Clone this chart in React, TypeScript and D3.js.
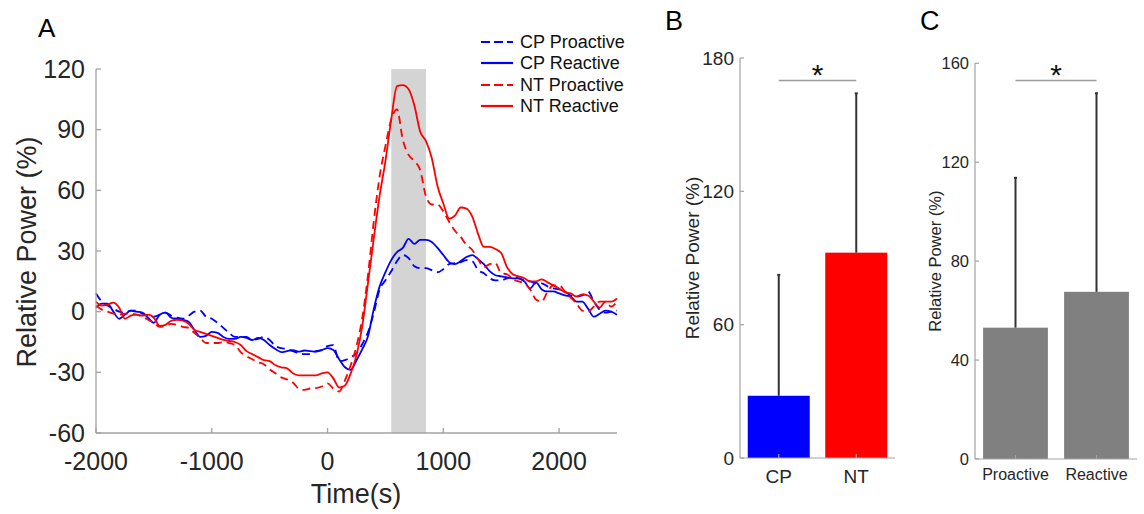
import React from "react";
import * as d3 from "d3";

// ---------- Panel A data (50 ms grid) ----------
const times = [
  -2000, -1950, -1900, -1850, -1800, -1750, -1700, -1650, -1600, -1550,
  -1500, -1450, -1400, -1350, -1300, -1250, -1200, -1150, -1100, -1050,
  -1000, -950, -900, -850, -800, -750, -700, -650, -600, -550,
  -500, -450, -400, -350, -300, -250, -200, -150, -100, -50,
  0, 50, 100, 150, 200, 250, 300, 350, 400, 450,
  500, 550, 600, 650, 700, 750, 800, 850, 900, 950,
  1000, 1050, 1100, 1150, 1200, 1250, 1300, 1350, 1400, 1450,
  1500, 1550, 1600, 1650, 1700, 1750, 1800, 1850, 1900, 1950,
  2000, 2050, 2100, 2150, 2200, 2250, 2300, 2350, 2400, 2450,
  2500,
];
const cpProactive = [
  9, 5, 3, 1.5, 0, -0.5, 0.5, 0.5, -1, -2,
  -2.5, -1.5, -0.5, -2, -3, -3.5, -2, 0, 0.5, -2.5,
  -3.5, -5.5, -8, -10.5, -12.5, -12.5, -12.5, -14, -13.5, -12.5,
  -14, -17, -18, -18.5, -19.5, -20.5, -21, -21, -19.5, -19,
  -17, -16.5, -24.5, -24, -22.5, -20.6, -16, -10, -0.5, 11,
  15.5, 20, 25, 28, 26.5, 22.5, 21.5, 21.5, 20.5, 19.5,
  21, 23.5, 24, 24.5, 25.5, 25, 20.5, 19, 16.5, 15.5,
  15.5, 16.5, 17, 16.5, 15.5, 15, 14, 14, 12.5, 11.5,
  11, 10, 8, 7.5, 8, 10, 5, 1, -0.5, 0,
  0.5,
];
const cpReactive = [
  2, 4, 4, 0, -3.5, -1.5, 0.5, 0, -0.5, -3,
  -5.5, -1.5, -0.5, -3, -3.5, -4, -5, -9, -12.5, -12,
  -10, -10.5, -12.5, -13.5, -13.5, -12.5, -13, -14, -13, -14,
  -16.5, -18.5, -20, -19.5, -19, -19.8, -19.2, -19.5, -19.8, -19,
  -18, -19, -23.5, -27.5, -28.8, -24, -18.5, -12, 1.5, 12.5,
  19.5, 25.5, 29.5, 31.5, 36, 33.5, 35.5, 35.5, 34.5, 31.5,
  28, 24.5, 23.5, 25, 27, 28, 26, 23.5, 20, 18,
  17.5, 17, 16.5, 16.5, 15, 11.5, 14.5, 11, 10, 10,
  9, 8, 7.5, 5, 5, 1.5, -2.5, -1, 0.5, 0,
  -1.5,
];
const ntProactive = [
  3, 1, 0, -1, -1.5, -1, -1, -1.5, -2.5, -4,
  -5.5, -7.5, -7, -6, -6.5, -7.5, -8, -10.5, -13, -15.5,
  -15.5, -15.5, -15, -15.5, -16.5, -20, -22, -23.5, -25, -26,
  -28.5, -30.5, -32.5, -33.5, -35, -38, -38.7, -38, -37.8, -37,
  -35.5, -38, -39.5, -34, -26.5, -17, -3, 18.5, 45, 67,
  82, 95, 100, 85, 77.5, 74.5, 70, 57, 53, 53,
  49.5, 44.5, 40, 37, 33, 30.5, 26, 22, 23.5, 24,
  19, 18.5, 16, 15, 14, 11, 6, 5, 10, 13,
  13, 10, 7, 4, 0.5, 0, 2.5, 5, 5, 2.5,
  5,
];
const ntReactive = [
  5, 3, 3.5, 4.5, 2, -3.5, -2, -1.5, -2, -1.5,
  -3, -7, -6.5, -4.5, -4, -4.5, -6, -9, -10, -11,
  -12, -13, -14, -14.5, -15, -16.5, -19.5, -21, -22.5, -24,
  -24.5, -26.5, -27.5, -28, -30.5, -31.5, -31.5, -31.5, -31.5, -30.5,
  -30, -33, -37.5, -36.5, -30.5, -21.5, -7, 14.5, 36.5, 57.5,
  74.5, 95, 111.5, 112, 110, 102, 89, 84.3, 76, 62,
  53.5, 46, 47.5, 51.5, 51, 47, 38.5, 32, 32, 31,
  29, 22, 18.5, 17.5, 16.5, 15, 15, 16, 14.5, 13,
  11.5, 9.5, 9, 7.5, 8.5, 8, 5, 2, 5, 5,
  6.5,
];
const shadeWindow = [550, 850];
const aXTicks = [-2000, -1000, 0, 1000, 2000];
const aYTicks = [-60, -30, 0, 30, 60, 90, 120];

// ---------- Panel B data ----------
const groupLabels = ["CP", "NT"];
const groupMeans = [28, 92.4];
const groupErrTop = [82.4, 164.1];
const groupColors = ["#0000ff", "#ff0000"];
const bYTicks = [0, 60, 120, 180];

// ---------- Panel C data ----------
const condLabels = ["Proactive", "Reactive"];
const condMeans = [53.1, 67.6];
const condErrTop = [113.7, 147.9];
const cYTicks = [0, 40, 80, 120, 160];

const FONT = "'Liberation Sans', Arial, Helvetica, sans-serif";
const AXIS = "#a3a3a3";
const TXT = "#262626";

const series = [
  { name: "CP Proactive", values: cpProactive, color: "#0000ff", dash: "8,5" },
  { name: "CP Reactive", values: cpReactive, color: "#0000ff", dash: null },
  { name: "NT Proactive", values: ntProactive, color: "#ff0000", dash: "8,5" },
  { name: "NT Reactive", values: ntReactive, color: "#ff0000", dash: null },
];

function BarPanel(props: {
  left: number; right: number; top: number; bottom: number;
  yMax: number; ticks: number[]; labels: string[]; means: number[]; errs: number[];
  colors: string[]; tickFont: number; labelFont: number; xFont: number; ylabelX: number;
  letter: string; letterX: number; xLabelY: number;
}) {
  const p = props;
  const x = d3.scaleLinear().domain([0.5, 2.5]).range([p.left, p.right]);
  const y = d3.scaleLinear().domain([0, p.yMax]).range([p.bottom, p.top]);
  const bw = x(1.4) - x(0.6);
  return (
    <g fontFamily={FONT}>
      <text x={p.letterX} y={30} fontSize={27} fill="#000">{p.letter}</text>
      {p.means.map((m, i) => (
        <rect key={"b" + i} x={x(i + 1) - bw / 2} y={y(m)} width={bw} height={y(0) - y(m)} fill={p.colors[i]} />
      ))}
      {p.errs.map((e, i) => (
        <g key={"e" + i} stroke="#333" strokeWidth={2}>
          <line x1={x(i + 1)} x2={x(i + 1)} y1={y(p.means[i])} y2={y(e)} />
          <line x1={x(i + 1) - 1.5} x2={x(i + 1) + 1.5} y1={y(e)} y2={y(e)} />
        </g>
      ))}
      <line x1={p.left} x2={p.left} y1={p.top} y2={p.bottom} stroke={AXIS} strokeWidth={1.2} />
      <line x1={p.left} x2={p.right} y1={p.bottom} y2={p.bottom} stroke={AXIS} strokeWidth={1.2} />
      {p.ticks.map((t) => (
        <g key={"t" + t}>
          <line x1={p.left} x2={p.left + 4} y1={y(t)} y2={y(t)} stroke={AXIS} strokeWidth={1.2} />
          <text x={p.left - 6} y={y(t)} dy="0.35em" textAnchor="end" fontSize={p.tickFont} fill={TXT}>{t}</text>
        </g>
      ))}
      {p.labels.map((l, i) => (
        <g key={"l" + i}>
          <line x1={x(i + 1)} x2={x(i + 1)} y1={p.bottom} y2={p.bottom - 4} stroke={AXIS} strokeWidth={1.2} />
          <text x={x(i + 1)} y={p.xLabelY} textAnchor="middle" fontSize={p.xFont} fill={TXT}>{l}</text>
        </g>
      ))}
      <text transform={`translate(${p.ylabelX},${(p.top + p.bottom) / 2}) rotate(-90)`} textAnchor="middle" fontSize={p.labelFont} fill={TXT}>
        Relative Power (%)
      </text>
      <line x1={x(1)} x2={x(2)} y1={80.5} y2={80.5} stroke="#9a9a9a" strokeWidth={1.3} />
      <text x={(x(1) + x(2)) / 2} y={85} textAnchor="middle" fontSize={30} fill="#111">*</text>
    </g>
  );
}

export default function App() {
  const W = 1144, H = 514;
  const ax = d3.scaleLinear().domain([-2000, 2500]).range([96, 617]);
  const ay = d3.scaleLinear().domain([-60, 120]).range([433, 69]);
  const line = d3.line<number>()
    .x((_, i) => ax(times[i]))
    .y((v) => ay(v))
    .curve(d3.curveMonotoneX);

  const legendRows = [42, 63, 85, 106];

  return (
    <div style={{ position: "absolute", left: 0, top: 0 }}>
      <svg width={W} height={H} style={{ display: "block", background: "#fff" }}>
        <rect width={W} height={H} fill="#fff" />
        {/* Panel A */}
        <g fontFamily={FONT}>
          <text x={38} y={37} fontSize={26} fill="#000">A</text>
          <rect x={ax(shadeWindow[0])} y={ay(120)} width={ax(shadeWindow[1]) - ax(shadeWindow[0])} height={ay(-60) - ay(120)} fill="#d4d4d4" />
          {series.map((s) => (
            <path key={s.name} d={line(s.values) || ""} fill="none" stroke={s.color} strokeWidth={1.8}
              strokeDasharray={s.dash || undefined} />
          ))}
          <line x1={96} x2={96} y1={ay(120)} y2={ay(-60)} stroke={AXIS} strokeWidth={1.3} />
          <line x1={96} x2={617} y1={ay(-60)} y2={ay(-60)} stroke={AXIS} strokeWidth={1.3} />
          {aYTicks.map((t) => (
            <g key={"ay" + t}>
              <line x1={96} x2={101} y1={ay(t)} y2={ay(t)} stroke={AXIS} strokeWidth={1.3} />
              <text x={85} y={ay(t)} dy="0.35em" textAnchor="end" fontSize={25} fill={TXT}>{t}</text>
            </g>
          ))}
          {aXTicks.map((t) => (
            <g key={"ax" + t}>
              <line x1={ax(t)} x2={ax(t)} y1={ay(-60)} y2={ay(-60) - 5} stroke={AXIS} strokeWidth={1.3} />
              <text x={ax(t)} y={470} textAnchor="middle" fontSize={25} fill={TXT}>{t}</text>
            </g>
          ))}
          <text x={356} y={503} textAnchor="middle" fontSize={27} fill={TXT}>Time(s)</text>
          <text transform={`translate(36,252) rotate(-90)`} textAnchor="middle" fontSize={27} fill={TXT}>Relative Power (%)</text>
          {series.map((s, i) => (
            <g key={"lg" + i}>
              <line x1={481} x2={513} y1={legendRows[i]} y2={legendRows[i]} stroke={s.color} strokeWidth={2.2}
                strokeDasharray={s.dash ? "9,4" : undefined} />
              <text x={520} y={legendRows[i]} dy="0.35em" fontSize={18} fill="#111">{s.name}</text>
            </g>
          ))}
        </g>
        {/* Panel B */}
        <BarPanel left={740} right={895} top={58} bottom={458} yMax={180} ticks={bYTicks}
          labels={groupLabels} means={groupMeans} errs={groupErrTop} colors={groupColors}
          tickFont={19} labelFont={19} xFont={19} ylabelX={699} letter="B" letterX={665} xLabelY={483} />
        {/* Panel C */}
        <BarPanel left={975} right={1137} top={63.3} bottom={459} yMax={160} ticks={cYTicks}
          labels={condLabels} means={condMeans} errs={condErrTop} colors={["#808080", "#808080"]}
          tickFont={16.5} labelFont={16.5} xFont={16} ylabelX={941} letter="C" letterX={920} xLabelY={480} />
      </svg>
    </div>
  );
}
